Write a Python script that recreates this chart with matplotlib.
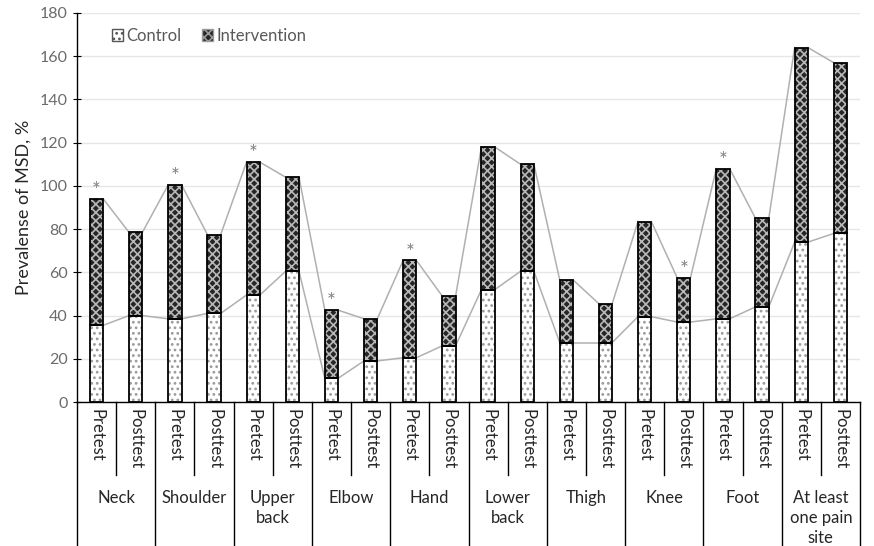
import numpy as np
import matplotlib
matplotlib.use('Agg')
import matplotlib.pyplot as plt
from matplotlib.patches import Patch
from matplotlib.lines import Line2D

# Data
sites = ['Neck', 'Shoulder', 'Upper\nback', 'Elbow', 'Hand', 'Lower\nback',
         'Thigh', 'Knee', 'Foot', 'At least\none pain\nsite']
phases = ['Pretest', 'Posttest']
control = [35.5, 40, 38.5, 41, 49.5, 60.5, 11, 19, 20.5, 26,
           52, 60.5, 27.5, 27.5, 39.5, 37, 38.5, 44, 74, 78]
total = [94, 78.5, 100.5, 77.5, 111, 104, 42.5, 38.5, 65.5, 49,
         118, 110, 56.5, 45.5, 83.5, 57.5, 108, 85, 164, 157]
intervention = [t - c for t, c in zip(total, control)]
starred = [0, 2, 4, 6, 8, 15, 16]

plt.rcParams['font.family'] = ['Lato', 'DejaVu Sans']
plt.rcParams['hatch.linewidth'] = 1.2

fig = plt.figure(figsize=(8.74, 5.46), dpi=100)
ax = fig.add_axes([0.0881, 0.2637, 0.8959, 0.7125])

n = len(control)
x = np.arange(n)
w = 0.34

# control: white with grey dots
ax.bar(x, control, w, color='white', hatch='...', edgecolor='#9a9a9a', linewidth=0, zorder=2)
ax.bar(x, control, w, fill=False, edgecolor='black', linewidth=1.3, zorder=3)
# intervention: dark with light cross pattern
ax.bar(x, intervention, w, bottom=control, color='#262626', hatch='xxxx',
       edgecolor='#b8b8b8', linewidth=0, zorder=2)
ax.bar(x, intervention, w, bottom=control, fill=False, edgecolor='black', linewidth=1.3, zorder=3)

# series lines
for i in range(n - 1):
    for s in (control, total):
        ax.plot([x[i] + w / 2, x[i + 1] - w / 2], [s[i], s[i + 1]],
                color='#b0b0b0', linewidth=1.1, zorder=1)

for i in starred:
    ax.text(x[i], total[i] - 1, '*', ha='center', va='bottom', fontsize=15, color='#808080')

ax.set_xlim(-0.5, n - 0.5)
ax.set_ylim(0, 180)
ax.set_yticks(range(0, 181, 20))
ax.tick_params(axis='y', labelsize=11.5, labelcolor='#6b6b6b', direction='inout', length=6)
ax.set_xticks([])
ax.grid(axis='y', color='#e6e6e6', linewidth=1, zorder=0)
ax.set_axisbelow(True)
for side in ('top', 'right'):
    ax.spines[side].set_visible(False)
ax.spines['left'].set_linewidth(1)
ax.spines['bottom'].set_linewidth(1)
ax.set_ylabel('Prevalense of MSD, %', fontsize=13, color='#262626', labelpad=6)

# two-level category axis
trans = ax.get_xaxis_transform()
px = 1.0 / (0.7125 * 546)  # one pixel in axes-y units
for i in range(n + 1):
    xb = i - 0.5
    depth = 143 if i % 2 == 0 else 73
    ax.add_line(Line2D([xb, xb], [0, -depth * px], transform=trans, color='black',
                       linewidth=1, clip_on=False))
for i in range(n):
    ax.text(x[i], -7 * px, phases[i % 2], transform=trans, rotation=-90,
            ha='center', va='top', fontsize=12, color='#262626')
for g, name in enumerate(sites):
    ax.text(2 * g + 0.5, -88 * px, name, transform=trans, ha='center', va='top',
            fontsize=12, color='#262626', linespacing=1.3)

handles = [Patch(facecolor='white', hatch='...', edgecolor='#555555', label='Control'),
           Patch(facecolor='#262626', hatch='xxxx', edgecolor='#999999', label='Intervention')]
ax.legend(handles=handles, loc='upper left', bbox_to_anchor=(0.025, 1.0), ncol=2, frameon=False,
          fontsize=12, handlelength=0.7, handleheight=0.7, handletextpad=0.2,
          columnspacing=1.2, labelcolor='#595959')

fig.savefig('out.png', dpi=100)
